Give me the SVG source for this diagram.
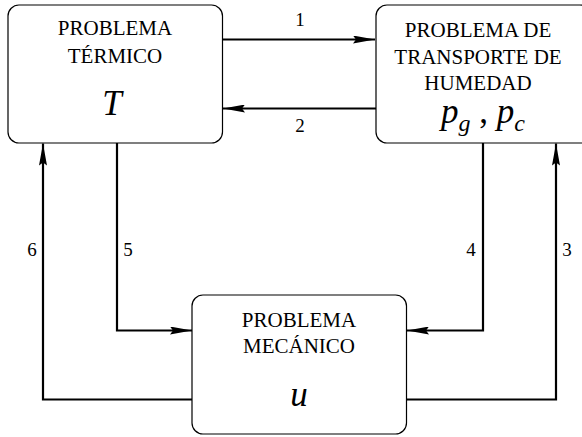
<svg xmlns="http://www.w3.org/2000/svg" width="582" height="437" viewBox="0 0 582 437">
<style>
.box{fill:#fff;stroke:#000;stroke-width:1.2}
.c{fill:none;stroke:#000;stroke-width:2.2}
</style>
<defs>
<marker id="ah" viewBox="0 0 22 8" refX="22" refY="4" markerWidth="22" markerHeight="8" markerUnits="userSpaceOnUse" orient="auto">
<path d="M0,0 L22,4 L0,8 L3,4 Z" fill="#000"/>
</marker>
</defs>
<g id="connectors">
<path class="c" d="M223,39.5 H375" marker-end="url(#ah)"/>
<path class="c" d="M376,108.5 H223" marker-end="url(#ah)"/>
<path class="c" d="M483,143 V330.5 H407" marker-end="url(#ah)"/>
<path class="c" d="M407,399.5 H556 V143.5" marker-end="url(#ah)"/>
<path class="c" d="M117,143 V330.5 H192" marker-end="url(#ah)"/>
<path class="c" d="M192,399.5 H43 V143.5" marker-end="url(#ah)"/>
<text style="font-family:'Liberation Serif',serif" font-size="19" text-anchor="middle" x="300" y="26">1</text>
<text style="font-family:'Liberation Serif',serif" font-size="19" text-anchor="middle" x="300" y="132">2</text>
<text style="font-family:'Liberation Serif',serif" font-size="19" text-anchor="middle" x="567" y="256">3</text>
<text style="font-family:'Liberation Serif',serif" font-size="19" text-anchor="middle" x="471" y="256">4</text>
<text style="font-family:'Liberation Serif',serif" font-size="19" text-anchor="middle" x="128" y="256">5</text>
<text style="font-family:'Liberation Serif',serif" font-size="19" text-anchor="middle" x="32" y="256">6</text>
</g>
<g id="termico">
<rect class="box" x="8" y="5" width="214.5" height="138" rx="11"/>
<text style="font-family:'Liberation Serif',serif" font-size="21" text-anchor="middle" x="115" y="35">PROBLEMA</text>
<text style="font-family:'Liberation Serif',serif" font-size="21" text-anchor="middle" x="115" y="63">TÉRMICO</text>
<text style="font-family:'Liberation Serif',serif" font-size="35" font-style="italic" text-anchor="middle" x="112" y="115">T</text>
</g>
<g id="humedad">
<rect class="box" x="376" y="5" width="215" height="138" rx="11"/>
<text style="font-family:'Liberation Serif',serif" font-size="21" text-anchor="middle" x="478" y="37">PROBLEMA DE</text>
<text style="font-family:'Liberation Serif',serif" font-size="21" text-anchor="middle" x="478" y="64">TRANSPORTE DE</text>
<text style="font-family:'Liberation Serif',serif" font-size="21" text-anchor="middle" x="478" y="90">HUMEDAD</text>
<text style="font-family:'Liberation Serif',serif" font-size="35" font-style="italic" text-anchor="middle" x="483" y="123">p<tspan font-size="24" dy="8">g</tspan><tspan dy="-8" font-style="normal"> , </tspan>p<tspan font-size="24" dy="8">c</tspan></text>
</g>
<g id="mecanico">
<rect class="box" x="192" y="295" width="214.5" height="139" rx="11"/>
<text style="font-family:'Liberation Serif',serif" font-size="21" text-anchor="middle" x="299" y="327">PROBLEMA</text>
<text style="font-family:'Liberation Serif',serif" font-size="21" text-anchor="middle" x="299" y="353">MECÁNICO</text>
<text style="font-family:'Liberation Serif',serif" font-size="35" font-style="italic" text-anchor="middle" x="299" y="406">u</text>
</g>
</svg>
